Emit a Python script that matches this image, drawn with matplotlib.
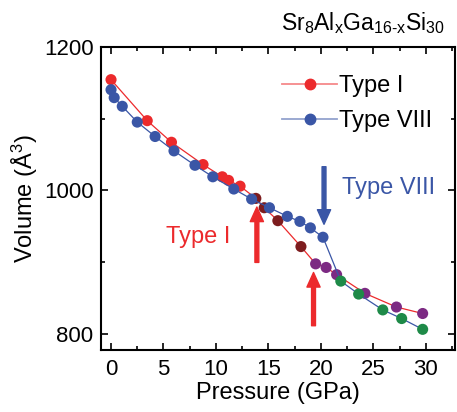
import numpy as np
import matplotlib
matplotlib.use("Agg")
import matplotlib.pyplot as plt
import matplotlib.ticker as mticker
from matplotlib.lines import Line2D

plt.rcParams["font.family"] = ["Liberation Sans", "DejaVu Sans"]
plt.rcParams["mathtext.fontset"] = "custom"
plt.rcParams["mathtext.rm"] = "Liberation Sans"
plt.rcParams["mathtext.it"] = "Liberation Sans"

# ---------------------------------------------------------------------------
# Data
# ---------------------------------------------------------------------------
type1_p = [0.0, 3.45, 5.76, 8.77, 10.6, 11.2, 12.3,
           13.8, 14.6, 15.9, 18.1,
           19.5, 20.5, 21.5, 24.2, 27.2, 29.7]
type1_v = [1154, 1097, 1067, 1036, 1019, 1014, 1006,
           989, 976, 958, 922,
           898, 893, 883, 857, 838, 829]
type1_phase = ["a"] * 7 + ["b"] * 4 + ["c"] * 6

type8_p = [0.0, 0.3, 1.07, 2.5, 4.2, 6.0, 8.0, 9.7, 11.7, 13.4,
           15.1, 16.8, 18.0, 19.0, 20.2,
           21.9, 23.6, 25.9, 27.7, 29.7]
type8_v = [1140, 1129, 1117, 1095, 1075, 1055, 1035, 1019, 1002, 988,
           976, 964, 957, 948, 935,
           874, 856, 834, 822, 807]
type8_phase = ["a"] * 15 + ["d"] * 5

RED = "#ec2a2c"
BLUE = "#3a56a6"
PHASE_COLORS = {"b": "#7d1c1e", "c": "#7c2a83", "d": "#1e8a48"}

fig = plt.figure(figsize=(4.57, 4.12), dpi=100)
ax = fig.add_axes([0.220, 0.150, 0.776, 0.737])

# Type I
ax.plot(type1_p, type1_v, color=RED, lw=0.9, zorder=2)
c1 = [RED if ph == "a" else PHASE_COLORS[ph] for ph in type1_phase]
ax.scatter(type1_p, type1_v, s=64, c=c1, edgecolors="none", zorder=3)

# Type VIII
ax.plot(type8_p, type8_v, color=BLUE, lw=0.9, zorder=4)
c8 = [BLUE if ph == "a" else PHASE_COLORS[ph] for ph in type8_phase]
ax.scatter(type8_p, type8_v, s=64, c=c8, edgecolors="none", zorder=5)

# Arrows marking transitions
arrow_kw = dict(width=2.8, headwidth=9.5, headlength=10.5, shrink=0)
ax.annotate("", xy=(13.9, 977), xytext=(13.9, 900),
            arrowprops=dict(color=RED, **arrow_kw))
ax.annotate("", xy=(19.3, 886), xytext=(19.3, 812),
            arrowprops=dict(color=RED, **arrow_kw))
ax.annotate("", xy=(20.3, 953), xytext=(20.3, 1033),
            arrowprops=dict(color=BLUE, **arrow_kw))

ax.text(11.4, 935, "Type I", color=RED, fontsize=17, ha="right", va="center")
ax.text(22.0, 1003, "Type VIII", color=BLUE, fontsize=17, ha="left", va="center")

ax.set_xlim(-1.0, 32.8)
ax.set_ylim(778, 1200)
ax.xaxis.set_major_locator(mticker.MultipleLocator(5))
ax.xaxis.set_minor_locator(mticker.MultipleLocator(2.5))
ax.yaxis.set_major_locator(mticker.FixedLocator([800, 1000, 1200]))
ax.yaxis.set_minor_locator(mticker.MultipleLocator(100))
ax.tick_params(which="both", direction="in", top=True, right=True,
               labelsize=16, width=1.2)
ax.tick_params(which="major", length=5)
ax.tick_params(which="minor", length=3)
ax.tick_params(axis="x", pad=6)
ax.tick_params(axis="y", pad=5)
for sp in ax.spines.values():
    sp.set_linewidth(1.5)

ax.set_xlabel("Pressure (GPa)", fontsize=17, labelpad=2)
ax.set_ylabel("Volume (Å$^3$)", fontsize=17, labelpad=3)

handles = [
    Line2D([], [], color=(0.93, 0.16, 0.17, 0.55), lw=1.3, marker="o",
           markersize=7.5, markerfacecolor=RED, markeredgecolor=RED),
    Line2D([], [], color=(0.23, 0.34, 0.65, 0.55), lw=1.3, marker="o",
           markersize=7.5, markerfacecolor=BLUE, markeredgecolor=BLUE),
]
leg = ax.legend(handles, ["Type I", "Type VIII"], loc="upper right",
                bbox_to_anchor=(0.995, 0.975), frameon=False, fontsize=17,
                handlelength=2.3, handletextpad=0.1, labelspacing=0.55)

fig.text(0.975, 0.945, "Sr$_8$Al$_x$Ga$_{\\mathrm{16‐x}}$Si$_{30}$",
         fontsize=16.5, ha="right", va="center")

fig.savefig("out.png", dpi=100)
